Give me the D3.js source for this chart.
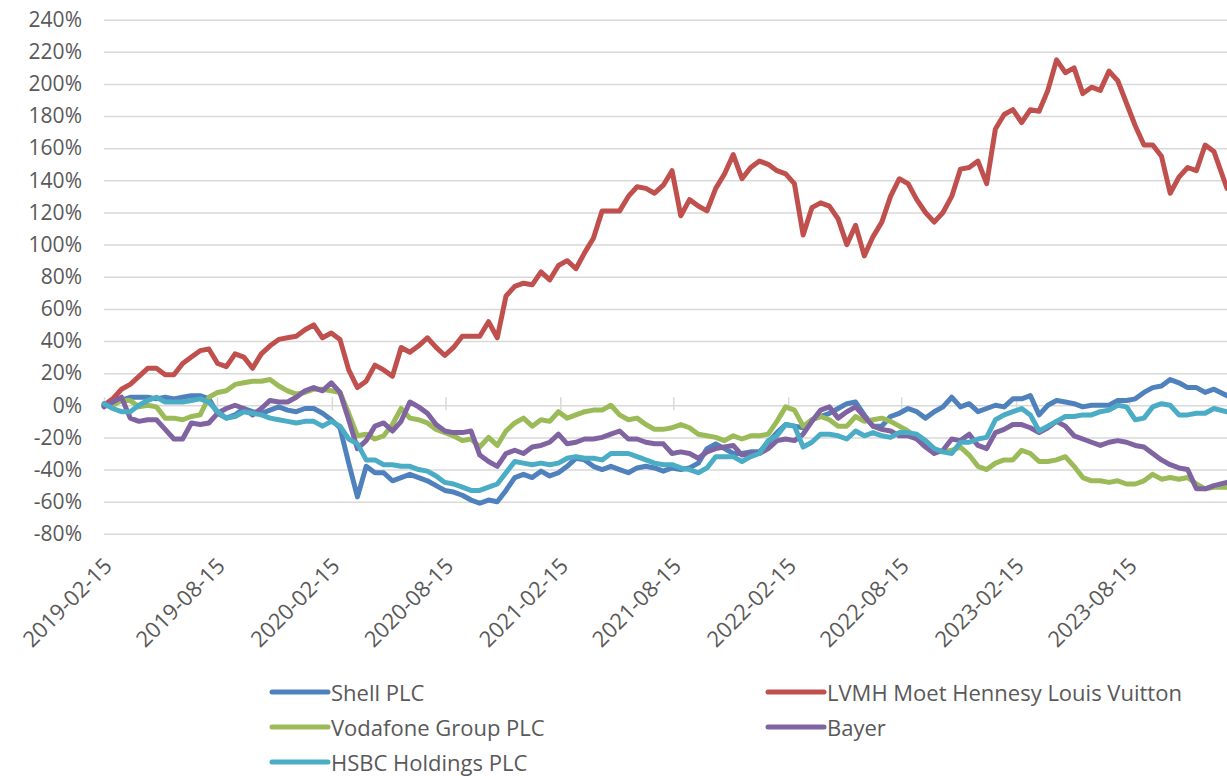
<!DOCTYPE html>
<html>
<head>
<meta charset="utf-8">
<script src="https://cdn.jsdelivr.net/npm/d3@7"></script>
<style>
  body { margin: 0; background: #fff; }
  svg { display: block; }
  text { font-family: "Open Sans", "Noto Sans", sans-serif; fill: #595959; }
</style>
</head>
<body>
<div id="chart"></div>
<script>
// series names in legend order
var names = ["Shell PLC", "LVMH Moet Hennesy Louis Vuitton", "Vodafone Group PLC", "Bayer", "HSBC Holdings PLC"]
var colors = ["#4f81bd", "#c0504d", "#9bbb59", "#8064a2", "#4bacc6"]

// cumulative return in %, one value every two weeks from 2019-02-15
var shell = [0,1,3,5,5,5,4,5,4,5,6,6,4,-5,-8,-6,-2,-4,-5,-3,-1,-3,-4,-2,-2,-5,-9,-14,-36,-57,
  -38,-42,-42,-47,-45,-43,-45,-47,-50,-53,-54,-56,-59,-61,-59,-60,-53,-45,-43,-45,-41,-44,-42,-38,-33,-34,-38,-40,-38,-40,
  -42,-39,-38,-39,-41,-39,-40,-39,-36,-27,-24,-27,-30,-30,-29,-29,-23,-17,-12,-13,-14,-9,-7,-5,-2,1,2,-6,-13,-13,
  -7,-5,-2,-4,-8,-4,-1,5,-1,1,-4,-2,0,-1,4,4,6,-6,0,3,2,1,-1,0,0,0,3,3,4,8,11,12,16,14,11,11,8,10,6]
var lvmh = [0,4,10,13,18,23,23,19,19,26,30,34,35,26,24,32,30,23,32,37,41,42,43,47,50,42,45,41,22,11,
  15,25,22,18,36,33,37,42,36,31,36,43,43,43,52,42,68,74,76,75,83,78,87,90,85,95,104,121,121,121,
  130,136,135,132,137,146,118,128,124,121,135,144,156,141,148,152,150,146,144,138,106,123,126,124,116,100,112,93,105,114,
  130,141,138,128,120,114,120,130,147,148,152,138,172,181,184,176,184,183,196,215,207,210,194,198,196,208,202,188,174,162,
  162,155,132,142,148,146,162,158,135]
var vodafone = [0,0,3,3,-1,0,-1,-8,-8,-9,-7,-6,5,8,9,13,14,15,15,16,12,9,7,8,10,10,9,8,-5,-19,
  -18,-21,-19,-12,-2,-8,-9,-11,-15,-17,-19,-22,-21,-26,-20,-25,-16,-11,-8,-13,-9,-10,-4,-8,-6,-4,-3,-3,0,-6,
  -9,-8,-12,-15,-15,-14,-12,-14,-18,-19,-20,-22,-19,-21,-19,-19,-18,-10,-1,-3,-13,-9,-7,-9,-13,-13,-7,-10,-9,-8,
  -10,-13,-16,-21,-25,-28,-29,-28,-26,-31,-38,-40,-36,-34,-34,-28,-30,-35,-35,-34,-32,-38,-45,-47,-47,-48,-47,-49,-49,-47,
  -43,-46,-45,-46,-45,-49,-52,-51,-51]
var bayer = [-1,2,5,-8,-10,-9,-9,-15,-21,-21,-11,-12,-11,-5,-2,0,-2,-6,-2,3,2,2,5,9,11,9,14,8,-9,-27,
  -22,-13,-11,-16,-10,2,-1,-5,-12,-16,-17,-17,-16,-31,-35,-38,-30,-28,-30,-26,-25,-23,-18,-24,-23,-21,-21,-20,-18,-16,
  -21,-21,-23,-24,-24,-30,-29,-30,-33,-29,-27,-26,-25,-31,-30,-30,-27,-22,-21,-22,-18,-10,-3,-1,-8,-4,-1,-7,-13,-15,
  -16,-19,-19,-21,-26,-30,-28,-21,-22,-18,-25,-27,-17,-15,-12,-12,-14,-17,-14,-10,-13,-19,-21,-23,-25,-23,-22,-23,-25,-26,
  -30,-34,-37,-39,-40,-52,-52,-50,-48]
var hsbc = [1,-2,-4,-4,0,3,5,2,2,2,3,4,2,-4,-8,-7,-4,-5,-6,-8,-9,-10,-11,-10,-10,-13,-10,-13,-21,-24,
  -34,-34,-37,-37,-38,-38,-40,-41,-44,-48,-49,-51,-53,-53,-51,-49,-42,-35,-36,-37,-36,-37,-36,-33,-32,-33,-33,-34,-30,-30,
  -30,-32,-34,-36,-37,-37,-39,-40,-42,-39,-32,-32,-32,-35,-32,-30,-22,-19,-12,-13,-26,-23,-18,-18,-19,-21,-16,-19,-17,-19,
  -20,-17,-17,-18,-22,-27,-29,-30,-23,-23,-21,-20,-9,-6,-4,-2,-6,-16,-13,-10,-7,-7,-6,-6,-4,-3,0,-1,-9,-8,
  -1,1,0,-6,-6,-5,-5,-2,-4]

var yTicks = [-80,-60,-40,-20,0,20,40,60,80,100,120,140,160,180,200,220,240]
var xTickLabels = ["2019-02-15","2019-08-15","2020-02-15","2020-08-15","2021-02-15","2021-08-15","2022-02-15","2022-08-15","2023-02-15","2023-08-15"]

var parse = d3.timeParse("%Y-%m-%d")
var start = parse("2019-02-15")
var dates = d3.range(shell.length).map(function(i) { return d3.timeDay.offset(start, i * 14) })
dates[dates.length - 1] = parse("2024-01-19")

var width = 1227, height = 776
var svg = d3.select('#chart')
  .append('svg')
  .attr('width', width)
  .attr('height', height)

var x = d3.scaleTime()
  .domain([start, parse("2023-08-15")])
  .range([104, 1129])
var y = d3.scaleLinear()
  .domain([-80, 240])
  .range([533.8, 19.7])

// gridlines + y labels
var yAxis = svg.append('g')
  .call(d3.axisLeft(y)
    .tickValues(yTicks)
    .tickFormat(function(d) { return d + "%" })
    .tickSize(-(width - 104))
    .tickPadding(22))
  .attr('transform', 'translate(104,0)')
yAxis.select('.domain').remove()
yAxis.selectAll('line')
  .attr('stroke', '#d9d9d9')
  .attr('stroke-width', 1.5)
yAxis.selectAll('text')
  .attr('font-size', 21)
  .style('fill', '#595959')

// category axis on the 0% line, cross tick marks
var xAxis = svg.append('g')
  .attr('transform', 'translate(0,' + y(0) + ')')
  .call(d3.axisBottom(x)
    .tickValues(xTickLabels.map(parse))
    .tickSize(5)
    .tickFormat(''))
xAxis.select('.domain').remove()
xAxis.selectAll('line')
  .attr('y1', -8)
  .attr('stroke', '#d9d9d9')
  .attr('stroke-width', 1.5)

svg.append('g')
  .selectAll('text')
  .data(xTickLabels)
  .join('text')
  .attr('transform', function(d) { return 'translate(' + (x(parse(d)) + 3) + ',561) rotate(-45)' })
  .attr('text-anchor', 'end')
  .attr('dominant-baseline', 'central')
  .attr('font-size', 22)
  .text(function(d) { return d })

// lines
var series = [shell, lvmh, vodafone, bayer, hsbc]
var line = d3.line()
  .x(function(d, i) { return x(dates[i]) })
  .y(function(d) { return y(d) })

svg.append('g')
  .selectAll('path')
  .data(series)
  .join('path')
  .attr('d', line)
  .attr('fill', 'none')
  .attr('stroke', function(d, i) { return colors[i] })
  .attr('stroke-width', 5)
  .attr('stroke-linejoin', 'round')
  .attr('stroke-linecap', 'round')

// legend, two columns
var legend = svg.append('g')
  .selectAll('g')
  .data(names)
  .join('g')
  .attr('transform', function(d, i) {
    return 'translate(' + [272, 768][i % 2] + ',' + (692 + 35 * Math.floor(i / 2)) + ')'
  })
legend.append('line')
  .attr('x1', 0)
  .attr('x2', 56)
  .attr('stroke', function(d, i) { return colors[i] })
  .attr('stroke-width', 5)
  .attr('stroke-linecap', 'round')
legend.append('text')
  .attr('x', 59)
  .attr('dominant-baseline', 'central')
  .attr('font-size', 22)
  .text(function(d) { return d })
</script>
</body>
</html>
